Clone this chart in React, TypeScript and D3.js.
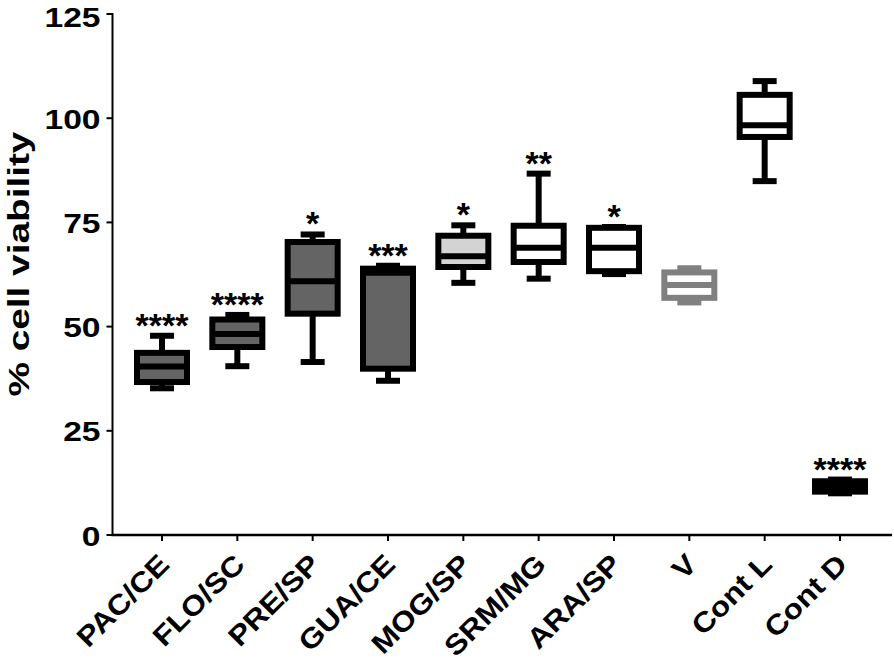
import React from "react";
import * as d3 from "d3";

const categories = ["PAC/CE", "FLO/SC", "PRE/SP", "GUA/CE", "MOG/SP", "SRM/MG", "ARA/SP", "V", "Cont L", "Cont D"];
const minVals = [35.2, 40.5, 41.5, 37.0, 60.5, 61.5, 62.6, 55.8, 84.9, 10.0];
const q1Vals = [36.7, 45.1, 53.1, 39.9, 64.3, 65.5, 63.3, 56.9, 95.5, 10.4];
const medianVals = [40.4, 48.2, 60.9, 62.9, 66.9, 68.9, 68.9, 60.0, 98.3, 11.8];
const q3Vals = [43.7, 51.7, 70.3, 63.9, 71.8, 74.2, 73.7, 63.0, 105.6, 12.9];
const maxVals = [47.8, 52.8, 72.1, 64.6, 74.3, 86.7, 73.9, 64.0, 108.9, 13.3];
const significance = ["****", "****", "*", "***", "*", "**", "*", "", "", "****"];
const fillColors = ["#646464", "#646464", "#646464", "#646464", "#d3d3d3", "#ffffff", "#ffffff", "#ffffff", "#ffffff", "#000000"];
const strokeColors = ["#000", "#000", "#000", "#000", "#000", "#000", "#000", "#808080", "#000", "#000"];
const yTicks = [0, 25, 50, 75, 100, 125];
const yLabel = "% cell viability";

const W = 894;
const H = 662;
const FONT = "'Liberation Sans', Arial, Helvetica, sans-serif";

export default function App() {
  const y = d3.scaleLinear().domain([0, 125]).range([535, 14]);
  const x = d3.scalePoint<string>().domain(categories).range([162, 840]);
  const axisX = 112.5;
  const boxW = 50;
  const capW = 24;
  const sw = 6;

  return (
    <svg width={W} height={H} style={{ position: "absolute", left: 0, top: 0, background: "#fff" }}>
      {/* y axis */}
      <line x1={axisX} x2={axisX} y1={y(125) - 1} y2={y(0) + 1} stroke="#000" strokeWidth={2} />
      {yTicks.map((t) => (
        <g key={t}>
          <line x1={axisX - 6} x2={axisX} y1={y(t)} y2={y(t)} stroke="#000" strokeWidth={2} />
          <text
            transform={`translate(${axisX - 12}, ${Math.max(y(t) + 10.5, 27)}) scale(1.2, 1)`}
            textAnchor="end"
            fontFamily={FONT}
            fontWeight="bold"
            fontSize={28}
          >
            {t}
          </text>
        </g>
      ))}
      <text
        transform={`translate(29, ${y(65)}) rotate(-90)`}
        textAnchor="middle"
        fontFamily={FONT}
        fontWeight="bold"
        fontSize={29}
        textLength={265}
        lengthAdjust="spacingAndGlyphs"
      >
        {yLabel}
      </text>
      {/* x axis */}
      <line x1={axisX - 1} x2={892} y1={y(0)} y2={y(0)} stroke="#000" strokeWidth={2.5} />
      {categories.map((c) => (
        <g key={c}>
          <line x1={x(c)} x2={x(c)} y1={y(0)} y2={y(0) + 6} stroke="#000" strokeWidth={2} />
          <text
            transform={`translate(${(x(c) as number) + 9}, 566) rotate(-45) scale(1.13, 1)`}
            textAnchor="end"
            fontFamily={FONT}
            fontWeight="bold"
            fontSize={28}
          >
            {c}
          </text>
        </g>
      ))}
      {/* boxes */}
      {categories.map((c, i) => {
        const cx = x(c) as number;
        const st = strokeColors[i];
        return (
          <g key={"b" + c}>
            <line x1={cx} x2={cx} y1={y(q3Vals[i])} y2={y(maxVals[i])} stroke={st} strokeWidth={sw} />
            <line x1={cx} x2={cx} y1={y(q1Vals[i])} y2={y(minVals[i])} stroke={st} strokeWidth={sw} />
            <line x1={cx - capW / 2} x2={cx + capW / 2} y1={y(maxVals[i])} y2={y(maxVals[i])} stroke={st} strokeWidth={sw} />
            <line x1={cx - capW / 2} x2={cx + capW / 2} y1={y(minVals[i])} y2={y(minVals[i])} stroke={st} strokeWidth={sw} />
            <rect
              x={cx - boxW / 2}
              y={y(q3Vals[i])}
              width={boxW}
              height={y(q1Vals[i]) - y(q3Vals[i])}
              fill={fillColors[i]}
              stroke={st}
              strokeWidth={sw}
            />
            <line x1={cx - boxW / 2} x2={cx + boxW / 2} y1={y(medianVals[i])} y2={y(medianVals[i])} stroke={st} strokeWidth={sw} />
            {significance[i] && (
              <text x={cx} y={y(maxVals[i]) + 1} textAnchor="middle" fontFamily={FONT} fontWeight="bold" fontSize={34}>
                {significance[i]}
              </text>
            )}
          </g>
        );
      })}
    </svg>
  );
}
